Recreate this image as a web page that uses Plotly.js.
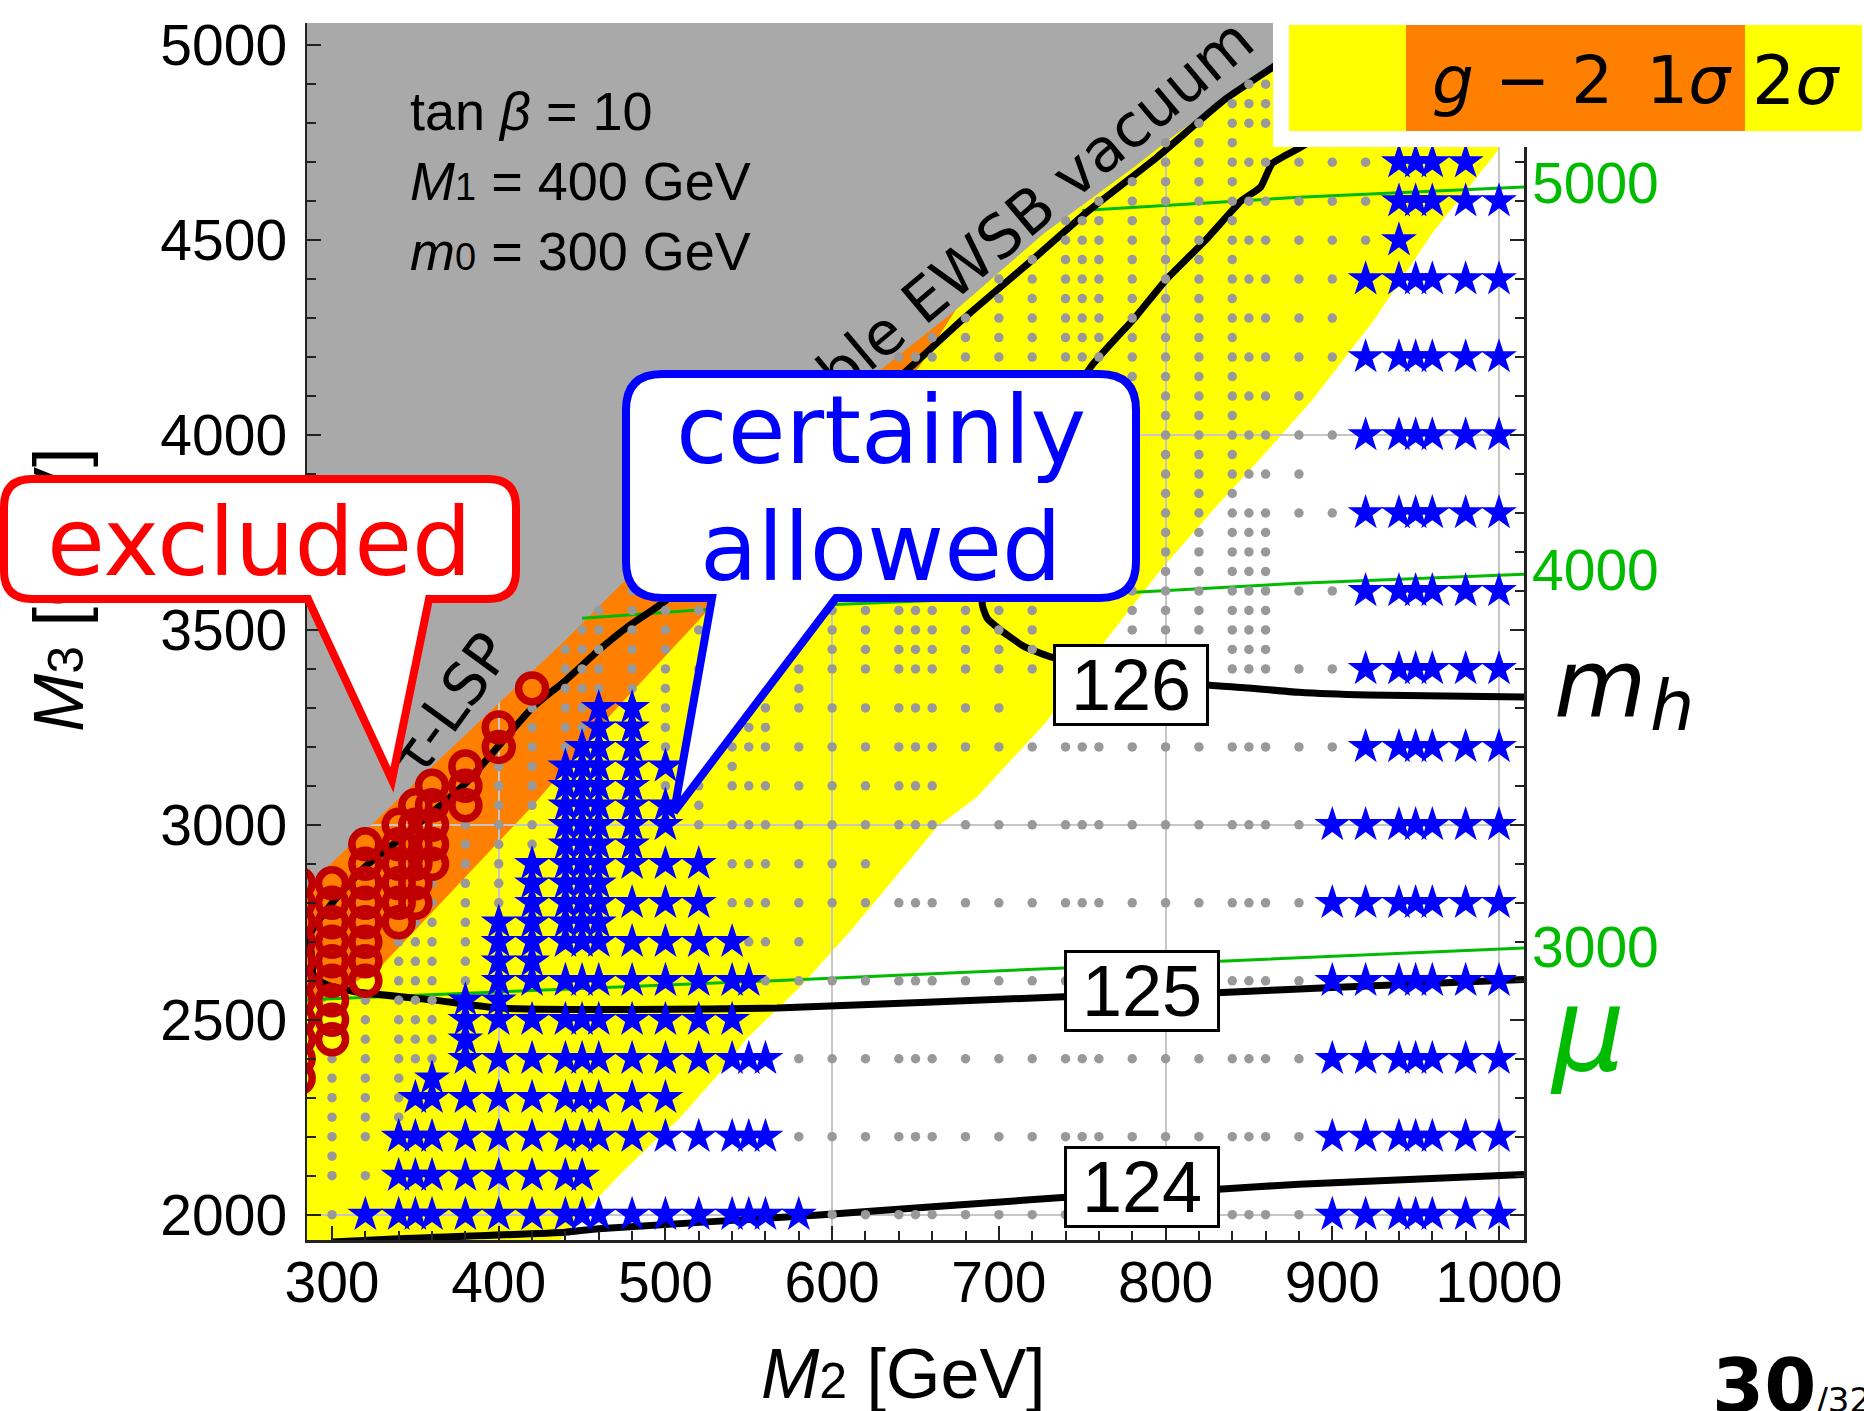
<!DOCTYPE html>
<html><head><meta charset="utf-8">
<script src="https://cdn.plot.ly/plotly-3.0.1.min.js"></script>
<style>html,body{margin:0;padding:0;background:#fff;} #chart{width:1864px;height:1411px;}</style>
</head><body><div id="chart"></div>
<script>
// ---------------- data (M2 [GeV], M3 [GeV]) ----------------
const xTickStart = 300, xTickStep = 100;
const yTickStart = 2000, yTickStep = 500;

// filled regions (polygons)
const grayRegionM2 = [270, 284, 360, 440, 476, 560, 631, 674, 727, 781, 807, 863, 905, 905, 270];
const grayRegionM3 = [2780, 2837, 3150, 3474, 3628, 3920, 4174, 4320, 4517, 4687, 4774, 4943, 5080, 5200, 5200];
const orangeRegionM2 = [270, 293, 330, 420, 468, 520, 652, 674, 660, 270];
const orangeRegionM3 = [2495, 2540, 2640, 3047, 3286, 3525, 4174, 4320, 4400, 4400];
const yellowRegionM2 = [425, 438, 450, 472, 496, 507, 540, 548, 581, 610, 629, 663, 687, 728, 763, 797, 830, 859, 888, 925, 960, 982, 1003, 1030, 1030, 270, 270];
const yellowRegionM3 = [1880, 1940, 2000, 2100, 2200, 2240, 2400, 2449, 2585, 2723, 2820, 2995, 3072, 3262, 3467, 3654, 3815, 3950, 4090, 4295, 4518, 4636, 4749, 4860, 5200, 5200, 1880];

// Higgs mass contours
const mh124M2 = [300, 340, 440, 460, 592, 738, 834, 880, 1015];
const mh124M3 = [1930, 1938, 1955, 1964, 1999, 2044, 2066, 2078, 2103];
const mh125M2 = [1015, 900, 834, 739, 567, 480, 400, 360, 314, 298, 289, 288, 287, 300, 320, 340, 380, 420, 440, 460, 478, 500, 560, 620, 647, 680, 720, 752, 795, 835, 870, 905];
const mh125M3 = [2603, 2583, 2570, 2559, 2530, 2526, 2530, 2551, 2572, 2588, 2610, 2650, 2720, 2799, 2893, 2961, 3106, 3300, 3370, 3448, 3510, 3575, 3830, 4070, 4174, 4303, 4449, 4569, 4713, 4859, 4960, 5070];
const mh126M2 = [1015, 921, 880, 850, 827, 780, 731, 715, 701, 693, 690, 705, 730, 755, 782, 800, 824, 846, 857, 864, 881, 900];
const mh126M3 = [3328, 3333, 3340, 3351, 3358, 3385, 3431, 3458, 3500, 3530, 3569, 3790, 3990, 4174, 4303, 4397, 4500, 4603, 4636, 4697, 4738, 4790];

// mu contours
const mu3000M2 = [285, 460, 592, 739, 850, 1015];
const mu3000M3 = [2551, 2582, 2605, 2633, 2654, 2684];
const mu4000M2 = [450, 520, 782, 880, 1015];
const mu4000M3 = [3530, 3551, 3597, 3620, 3643];
const mu5000M2 = [750, 880, 1015];
const mu5000M3 = [4576, 4610, 4636];
const muLabels = ['5000', '4000', '3000'];
const muLabelM3 = [4646, 3654, 2687];

// scan points (gray dots): columns and per-row spans
const scanM2 = [300,320,340,350,360,380,400,420,440,450,460,480,500,520,540,550,560,580,600,620,640,650,660,680,700,720,740,750,760,780,800,820,840,850,860,880,900,920];
const dotRowM3 = [2000,2100,2150,2200,2250,2300,2350,2400,2450,2500,2550,2600,2650,2700,2750,2800,2850,2900,2950,3000,3050,3100,3150,3200,3250,3300,3350,3400,3450,3500,3550,3600,3650,3700,3750,3800,3850,3900,3950,4000,4050,4100,4150,4200,4250,4300,4350,4400,4450,4500,4550,4600,4650,4700,4750,4800,4850,4900];
const dotRowSpans = [
 [[300,300],[600,880]], [[300,320]], [[300,300]], [[300,320],[580,880]], [[300,340]], [[300,340]], [[300,340]],
 [[300,360],[580,880]], [[320,360]], [[320,360]], [[320,360]], [[340,380],[560,880]], [[340,380]], [[340,380],[550,580]],
 [[350,380]], [[360,400],[540,880]], [[360,400]], [[380,400],[540,620]], [[380,420]], [[380,420],[520,880]],
 [[400,420],[520,520]], [[400,420],[500,660]], [[400,420],[540,540]], [[420,900]], [[420,450],[500,500],[550,560]],
 [[420,450],[500,500],[560,700]], [[440,500],[580,580]], [[440,900]], [[440,500],[600,720],[840,860]],
 [[450,720],[780,860]], [[460,720],[780,860]], [[480,900]], [[480,860]], [[500,860]], [[520,860]], [[540,900]],
 [[540,840]], [[560,880]], [[580,840]], [[580,900]], [[600,840]], [[620,880]], [[640,840]], [[640,900]],
 [[660,840]], [[680,900]], [[700,840]], [[700,900]], [[720,840]], [[740,920]], [[740,840]], [[760,920]],
 [[780,840]], [[800,920]], [[800,840]], [[820,880]], [[840,860]], [[850,860]]
];

// certainly allowed points (blue stars)
const starRowM3 = [2000,2100,2200,2300,2350,2400,2450,2500,2550,2600,2650,2700,2750,2800,2850,2900,2950,3000,3050,3100,3150,3200,3250,3300,
                   2000,2200,2400,2600,2800,3000,3200,3400,3600,3800,4000,4200,4400,4500,4600,4700];
const starRowM2 = [
 [320,340,350,360,380,400,420,440,450,460,480,500,520,540,550,560,580],
 [340,350,360,380,400,420,440,450],
 [340,350,360,380,400,420,440,450,460,480,500,520,540,550,560],
 [350,360,380,400,420,440,450,460,480,500],
 [360],
 [380,400,420,440,450,460,480,500,520,540,550,560],
 [380],
 [380,400,420,440,450,460,480,500,520,540],
 [380,400],
 [400,420,440,450,460,480,500,520,540,550],
 [400,420],
 [400,420,440,450,460,480,500,520,540],
 [400,420,440,450,460],
 [420,440,450,460,480,500,520],
 [420,440,450,460],
 [420,440,450,460,480,500,520],
 [440,450,460,480],
 [440,450,460,480,500],
 [440,450,460,480,500],
 [440,450,460,480],
 [440,450,460,480,500],
 [450,460,480],
 [460,480],
 [460,480],
 [900,920,940,950,960,980,1000],
 [900,920,940,950,960,980,1000],
 [900,920,940,950,960,980,1000],
 [900,920,940,950,960,980,1000],
 [900,920,940,950,960,980,1000],
 [900,920,940,950,960,980,1000],
 [920,940,950,960,980,1000],
 [920,940,950,960,980,1000],
 [920,940,950,960,980,1000],
 [920,940,950,960,980,1000],
 [920,940,950,960,980,1000],
 [920,940,950,960,980,1000],
 [920,940,950,960,980,1000],
 [940],
 [940,950,960,980,1000],
 [940,950,960,980]
];

// excluded points (red circles): per column
const excludedM2 = [280, 300, 320, 340, 350, 360, 380, 400, 420];
const excludedM3 = [
 [2350,2400,2450,2500,2550,2600,2650,2700,2750,2800,2850],
 [2450,2500,2550,2600,2650,2700,2750,2800,2850],
 [2600,2650,2700,2750,2800,2850,2900,2950],
 [2750,2800,2850,2900,2950,3000],
 [2800,2850,2900,2950,3000,3050],
 [2900,2950,3000,3050,3100],
 [3050,3100,3150],
 [3200,3250],
 [3350]
];

// ---------------- build point lists ----------------
const dotX = [], dotY = [];
dotRowM3.forEach((m3, i) => {
  dotRowSpans[i].forEach(([a, b]) => {
    scanM2.forEach(c => { if (c >= a && c <= b) { dotX.push(c); dotY.push(m3); } });
  });
});
const starX = [], starY = [];
starRowM3.forEach((m3, i) => starRowM2[i].forEach(c => { starX.push(c); starY.push(m3); }));
const exX = [], exY = [];
excludedM2.forEach((c, i) => excludedM3[i].forEach(m3 => { exX.push(c); exY.push(m3); }));

// ---------------- geometry helpers (pixels -> paper) ----------------
const L = 307, T = 23, W = 1217, H = 1217;
const px = v => ((v - L) / W).toFixed(5);
const py = v => ((T + H - v) / H).toFixed(5);
function polyPath(xs, ys) {
  return 'M' + xs.map((x, i) => x + ',' + ys[i]).join('L') + 'Z';
}
function callout(l, t, r, b, rad, bl, br, tx, ty) {
  const P = (x, y) => px(x) + ',' + py(y);
  return 'M' + P(l + rad, t) + 'L' + P(r - rad, t) + 'Q' + P(r, t) + ' ' + P(r, t + rad) +
    'L' + P(r, b - rad) + 'Q' + P(r, b) + ' ' + P(r - rad, b) +
    'L' + P(br, b) + 'L' + P(tx, ty) + 'L' + P(bl, b) +
    'L' + P(l + rad, b) + 'Q' + P(l, b) + ' ' + P(l, b - rad) +
    'L' + P(l, t + rad) + 'Q' + P(l, t) + ' ' + P(l + rad, t) + 'Z';
}
function rectP(x0, y0, x1, y1, color) {
  return {type: 'rect', xref: 'paper', yref: 'paper', x0: px(x0), x1: px(x1), y0: py(y1), y1: py(y0),
          fillcolor: color, line: {width: 0}, layer: 'above'};
}

// ---------------- traces ----------------
const GREEN = '#00bb00';
const traces = [
  {x: grayRegionM2, y: grayRegionM3, mode: 'lines', fill: 'toself', fillcolor: '#a9a9a9', line: {width: 0}, hoverinfo: 'skip'},
  {x: mu3000M2, y: mu3000M3, mode: 'lines', line: {color: GREEN, width: 3}, hoverinfo: 'skip'},
  {x: mu4000M2, y: mu4000M3, mode: 'lines', line: {color: GREEN, width: 3}, hoverinfo: 'skip'},
  {x: mu5000M2, y: mu5000M3, mode: 'lines', line: {color: GREEN, width: 3}, hoverinfo: 'skip'},
  {x: mh124M2, y: mh124M3, mode: 'lines', line: {color: '#000', width: 7, shape: 'spline', smoothing: 0.5}, hoverinfo: 'skip'},
  {x: mh125M2, y: mh125M3, mode: 'lines', line: {color: '#000', width: 7, shape: 'spline', smoothing: 0.5}, hoverinfo: 'skip'},
  {x: mh126M2, y: mh126M3, mode: 'lines', line: {color: '#000', width: 7, shape: 'spline', smoothing: 0.5}, hoverinfo: 'skip'},
  {x: dotX, y: dotY, mode: 'markers', marker: {symbol: 'circle', size: 9.5, color: '#999999'}, hoverinfo: 'skip'},
  {x: starX, y: starY, mode: 'markers', marker: {symbol: 'star', size: 27, color: '#0000ff', line: {width: 0}}, hoverinfo: 'skip'},
  {x: exX, y: exY, mode: 'markers', marker: {symbol: 'circle-open', size: 27, color: '#c00000', line: {width: 7.5}}, hoverinfo: 'skip'},
  {x: [xTickStart], y: [yTickStart], xaxis: 'x2', yaxis: 'y2', mode: 'markers', marker: {opacity: 0}, hoverinfo: 'skip'}
];

const tickFont = {family: 'Liberation Sans, Arial, sans-serif', size: 57, color: '#000'};
const xRange = [285, 1015], yRange = [1935, 5057];

const shapes = [
  {type: 'path', xref: 'x', yref: 'y', path: polyPath(yellowRegionM2, yellowRegionM3), fillcolor: '#ffff00', line: {width: 0}, layer: 'below'},
  {type: 'path', xref: 'x', yref: 'y', path: polyPath(orangeRegionM2, orangeRegionM3), fillcolor: '#ff8000', line: {width: 0}, layer: 'below'},
  // legend box
  rectP(1273, 0, 1864, 147, '#ffffff'),
  rectP(1289, 25, 1406, 131, '#ffff00'),
  rectP(1406, 25, 1745, 131, '#ff8000'),
  rectP(1745, 25, 1862, 131, '#ffff00'),
  // callouts
  {type: 'path', xref: 'paper', yref: 'paper', path: callout(4, 479, 516, 599, 28, 308, 429, 392, 780),
   fillcolor: '#ffffff', line: {color: '#ff0000', width: 8}, layer: 'above'},
  {type: 'path', xref: 'paper', yref: 'paper', path: callout(626, 374, 1136, 598, 36, 712, 836, 674, 812),
   fillcolor: '#ffffff', line: {color: '#0000ff', width: 8}, layer: 'above'}
];

const DJ = 'DejaVu Sans, sans-serif';
const LIB = 'Liberation Sans, Arial, sans-serif';
const annotations = [
  // 0-2: drawn beneath the callouts (moved after render)
  {xref: 'paper', yref: 'paper', x: px(59), y: py(589), text: '<i>M</i><span style="font-size:50px">3</span> [GeV]',
   textangle: -90, showarrow: false, font: {family: LIB, size: 70, color: '#000'}, xanchor: 'center', yanchor: 'middle'},
  {xref: 'paper', yref: 'paper', x: px(971), y: py(260), text: 'unstable EWSB vacuum', textangle: -40, showarrow: false,
   font: {family: DJ, size: 60, color: '#000'}, xanchor: 'center', yanchor: 'middle'},
  {xref: 'paper', yref: 'paper', x: px(450), y: py(705), text: 'τ̃-LSP', textangle: -54, showarrow: false,
   font: {family: DJ, size: 58, color: '#000'}, xanchor: 'center', yanchor: 'middle'},
  // x title
  {xref: 'paper', yref: 'paper', x: px(903), y: py(1374), text: '<i>M</i><span style="font-size:50px">2</span> [GeV]',
   showarrow: false, font: {family: LIB, size: 70, color: '#000'}, xanchor: 'center', yanchor: 'middle'},
  // parameters
  {xref: 'paper', yref: 'paper', x: px(408), y: py(181), align: 'left', xanchor: 'left', yanchor: 'middle', showarrow: false,
   text: 'tan <i>β</i> = 10<br><i>M</i><span style="font-size:38px">1</span> = 400 GeV<br><i>m</i><span style="font-size:38px">0</span> = 300 GeV',
   font: {family: LIB, size: 54, color: '#000'}},
  // callout texts
  {xref: 'paper', yref: 'paper', x: px(260), y: py(542), text: 'excluded', showarrow: false,
   font: {family: DJ, size: 94, color: '#ff0000'}, xanchor: 'center', yanchor: 'middle'},
  {xref: 'paper', yref: 'paper', x: px(881), y: py(431), text: 'certainly', showarrow: false,
   font: {family: DJ, size: 94, color: '#0000ff'}, xanchor: 'center', yanchor: 'middle'},
  {xref: 'paper', yref: 'paper', x: px(881), y: py(547), text: 'allowed', showarrow: false,
   font: {family: DJ, size: 94, color: '#0000ff'}, xanchor: 'center', yanchor: 'middle'},
  // Higgs mass contour labels
  {xref: 'x', yref: 'y', x: 779, y: 3359, text: '126', showarrow: false, font: {family: LIB, size: 72, color: '#000'},
   bgcolor: '#fff', bordercolor: '#000', borderwidth: 3, borderpad: 3, width: 144, height: 70},
  {xref: 'x', yref: 'y', x: 786, y: 2574, text: '125', showarrow: false, font: {family: LIB, size: 72, color: '#000'},
   bgcolor: '#fff', bordercolor: '#000', borderwidth: 3, borderpad: 3, width: 144, height: 70},
  {xref: 'x', yref: 'y', x: 786, y: 2072, text: '124', showarrow: false, font: {family: LIB, size: 72, color: '#000'},
   bgcolor: '#fff', bordercolor: '#000', borderwidth: 3, borderpad: 3, width: 144, height: 70},
  // right-side labels
  {xref: 'paper', yref: 'paper', x: px(1552), y: py(684), text: '<i>m</i>', showarrow: false, xanchor: 'left', yanchor: 'middle',
   font: {family: DJ, size: 95, color: '#000'}},
  {xref: 'paper', yref: 'paper', x: px(1648), y: py(706), text: '<i>h</i>', showarrow: false, xanchor: 'left', yanchor: 'middle',
   font: {family: DJ, size: 70, color: '#000'}},
  {xref: 'paper', yref: 'paper', x: px(1548), y: py(1030), text: '<i>μ</i>', showarrow: false, xanchor: 'left', yanchor: 'middle',
   font: {family: DJ, size: 115, color: GREEN}},
  // legend text
  {xref: 'paper', yref: 'paper', x: px(1430), y: py(80), text: '<i>g</i> − 2&#8194;1<i>σ</i>', showarrow: false, xanchor: 'left', yanchor: 'middle',
   font: {family: DJ, size: 66, color: '#000'}},
  {xref: 'paper', yref: 'paper', x: px(1750), y: py(80), text: '2<i>σ</i>', showarrow: false, xanchor: 'left', yanchor: 'middle',
   font: {family: DJ, size: 68, color: '#000'}},
  // page number
  {xref: 'paper', yref: 'paper', x: px(1710), y: py(1386), text: '<b>30</b><span style="font-size:34px">/32</span>', showarrow: false,
   xanchor: 'left', yanchor: 'middle', font: {family: DJ, size: 75, color: '#000'}}
];
muLabels.forEach((t, i) => annotations.push({xref: 'paper', yref: 'y', x: px(1530), y: muLabelM3[i], text: t, showarrow: false,
  xanchor: 'left', yanchor: 'middle', font: {family: LIB, size: 57, color: GREEN}}));

const layout = {
  width: 1864, height: 1411, margin: {l: 307, r: 340, t: 23, b: 171, pad: 0},
  paper_bgcolor: '#ffffff', plot_bgcolor: '#ffffff', showlegend: false,
  xaxis: {range: xRange, tickmode: 'linear', tick0: xTickStart, dtick: xTickStep, ticks: 'inside', ticklen: 14, tickwidth: 2,
          tickcolor: '#222', showline: true, linecolor: '#222', linewidth: 2.5, showgrid: false, zeroline: false,
          minor: {tickmode: 'linear', tick0: xTickStart, dtick: 20, ticks: 'inside', ticklen: 9, tickwidth: 2, tickcolor: '#222', showgrid: false},
          tickfont: tickFont, ticklabelstandoff: -9, fixedrange: true},
  yaxis: {range: yRange, tickmode: 'linear', tick0: yTickStart, dtick: yTickStep, ticks: 'inside', ticklen: 14, tickwidth: 2,
          tickcolor: '#222', showline: true, linecolor: '#222', linewidth: 2.5, mirror: 'ticks', showgrid: false, zeroline: false,
          minor: {tickmode: 'linear', tick0: yTickStart, dtick: 100, ticks: 'inside', ticklen: 9, tickwidth: 2, tickcolor: '#222', showgrid: false},
          tickfont: tickFont, ticklabelstandoff: 6, fixedrange: true},
  xaxis2: {overlaying: 'x', anchor: 'y2', range: xRange, tickmode: 'linear', tick0: 400, dtick: 200, showticklabels: false, ticks: '',
           showgrid: true, gridcolor: '#c6c6c6', gridwidth: 2, zeroline: false, showline: false},
  yaxis2: {overlaying: 'y', anchor: 'x2', range: yRange, tickmode: 'linear', tick0: 2000, dtick: 1000, showticklabels: false, ticks: '',
           showgrid: true, gridcolor: '#c6c6c6', gridwidth: 2, zeroline: false, showline: false},
  shapes: shapes,
  annotations: annotations
};

Plotly.newPlot('chart', traces, layout, {displayModeBar: false, staticPlot: true}).then(() => {
  // put the axis title and the two region labels beneath the callout boxes
  const paths = Array.from(document.querySelectorAll('.shapelayer path'));
  const red = paths.find(p => (p.style.stroke || p.getAttribute('stroke') || '').replace(/\s/g, '') === 'rgb(255,0,0)');
  if (!red) return;
  let topG = red;
  while (topG.parentNode && topG.parentNode.tagName && topG.parentNode.tagName.toLowerCase() !== 'svg') topG = topG.parentNode;
  document.querySelectorAll('.infolayer .annotation').forEach(a => {
    if (+a.getAttribute('data-index') <= 2) topG.parentNode.insertBefore(a, topG);
  });
});
</script>
</body></html>
